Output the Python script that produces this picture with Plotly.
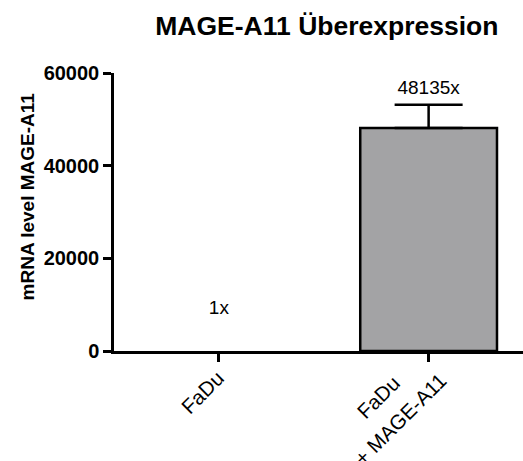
import plotly.graph_objects as go

categories = ["FaDu", "FaDu<br>+ MAGE-A11"]
values = [1, 48135]
errors = [0, 5000]
labels = ["1x", "48135x"]
label_y = [9000, 56500]
y_ticks = [0, 20000, 40000, 60000]

FONT = "Liberation Sans, Arial, sans-serif"

fig = go.Figure()
for i in range(len(values)):
    bar = dict(
        x=[i], y=[values[i]], width=0.652,
        marker=dict(color="#a3a3a5",
                    line=dict(color="black", width=2.5 if values[i] > 100 else 0)),
        showlegend=False,
    )
    if errors[i]:
        bar["error_y"] = dict(type="data", array=[errors[i]], symmetric=False,
                              arrayminus=[0], color="black", thickness=2.5, width=34)
    fig.add_trace(go.Bar(**bar))
fig.add_trace(go.Scatter(
    x=[0, 1], y=label_y, mode="text", text=labels,
    textfont=dict(family=FONT, size=19, color="black"),
    showlegend=False, cliponaxis=False,
))

annotations = []
# rotated category labels: one annotation per text line, centre offsets in px
line_offsets = [[(-17, -41)], [(-51, -46), (-29, -68)]]
for i, cat in enumerate(categories):
    for line, (dx, dy) in zip(cat.split("<br>"), line_offsets[i]):
        annotations.append(dict(
            x=i, y=0, xref="x", yref="y", text=line, showarrow=False,
            textangle=-45, xanchor="center", yanchor="middle",
            xshift=dx, yshift=dy, borderpad=0,
            font=dict(family=FONT, size=20.5, color="black"),
        ))
# y-axis title
annotations.append(dict(
    x=0, y=0.556, xref="paper", yref="paper", text="<b>mRNA level MAGE-A11</b>",
    showarrow=False, textangle=-90, xanchor="center", yanchor="middle",
    xshift=-87, font=dict(family=FONT, size=19, color="black"),
))

fig.update_layout(
    width=523, height=461,
    margin=dict(l=114, r=0, t=73, b=110),
    plot_bgcolor="white", paper_bgcolor="white",
    barmode="overlay",
    font=dict(family=FONT, color="black"),
    title=dict(text="<b>MAGE-A11 Überexpression</b>", x=0.625, xanchor="center",
               y=0.945, yanchor="middle", font=dict(size=26.5)),
    annotations=annotations,
)
fig.update_xaxes(
    range=[-0.5, 1.45], tickmode="array", tickvals=[0, 1], ticktext=["", ""],
    ticks="outside", ticklen=8, tickwidth=2.5, tickcolor="black",
    showline=True, linecolor="black", linewidth=2.5, showgrid=False, zeroline=False,
)
fig.update_yaxes(
    range=[0, 60000], tickmode="array", tickvals=y_ticks,
    ticktext=["<b>%d</b>" % v for v in y_ticks],
    ticks="outside", ticklen=8, tickwidth=2.5, tickcolor="black",
    showline=True, linecolor="black", linewidth=2.5, showgrid=False, zeroline=False,
    tickfont=dict(size=20),
)
fig.write_html("out.html")
